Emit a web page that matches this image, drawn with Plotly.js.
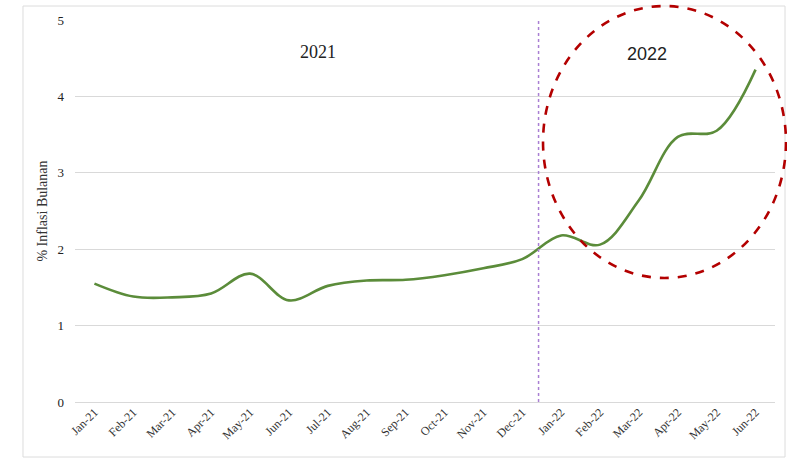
<!DOCTYPE html>
<html>
<head>
<meta charset="utf-8">
<script src="https://cdn.plot.ly/plotly-3.0.1.min.js"></script>
<style>html,body{margin:0;padding:0;background:#fff;}#chart{width:787px;height:459px;}</style>
</head>
<body>
<div id="chart"></div>
<script>
const months = ["Jan-21","Feb-21","Mar-21","Apr-21","May-21","Jun-21","Jul-21","Aug-21","Sep-21","Oct-21","Nov-21","Dec-21","Jan-22","Feb-22","Mar-22","Apr-22","May-22","Jun-22"];
const inflation = [1.55,1.38,1.37,1.42,1.68,1.33,1.52,1.59,1.60,1.66,1.75,1.87,2.18,2.06,2.64,3.47,3.55,4.35];
const yearLabels = ["2021","2022"];
const yTicks = [0,1,2,3,4,5];

const serif = "Liberation Serif, DejaVu Serif, serif";

const trace = {
  x: months,
  y: inflation,
  type: "scatter",
  mode: "lines",
  line: {color: "#5b8c3a", width: 2.6, shape: "spline", smoothing: 1},
  hoverinfo: "x+y"
};

const layout = {
  width: 787, height: 459,
  margin: {l: 75, r: 12, t: 20, b: 57},
  paper_bgcolor: "#fff", plot_bgcolor: "#fff",
  showlegend: false,
  font: {family: serif},
  xaxis: {
    type: "category",
    tickangle: -45,
    tickfont: {family: serif, size: 12, color: "#333"},
    showgrid: false, zeroline: false, showline: false, ticks: "",
    range: [-0.5, months.length - 0.5]
  },
  yaxis: {
    range: [0, 5],
    tickvals: yTicks,
    tickfont: {family: serif, size: 13, color: "#222"},
    ticklabelstandoff: 10,
    showgrid: true, gridcolor: "#d9d9d9", gridwidth: 1,
    zeroline: true, zerolinecolor: "#d9d9d9", zerolinewidth: 1,
    showline: false, ticks: "", ticklen: 0,
    title: {text: "% Inflasi Bulanan", font: {family: serif, size: 14, color: "#333"}, standoff: 6}
  },
  shapes: [
    {type: "rect", xref: "paper", yref: "paper", x0: -0.0743, x1: 1.0143, y0: -0.144, y1: 1.0366,
     line: {color: "#dcdcdc", width: 1}, fillcolor: "rgba(0,0,0,0)", layer: "below"},
    {type: "line", xref: "x", yref: "y", x0: 11.42, x1: 11.42, y0: 0, y1: 5,
     line: {color: "#a97fd3", width: 1.5, dash: "3px,3px"}},
    {type: "circle", xref: "paper", yref: "paper", x0: 0.6686, x1: 1.0157, y0: 0.3246, y1: 1.0366,
     line: {color: "#b30000", width: 2.6, dash: "dash"}}
  ],
  annotations: [
    {text: yearLabels[0], xref: "paper", yref: "paper", x: 0.3186, y: 0.9476, showarrow: false,
     font: {family: serif, size: 18, color: "#222"}},
    {text: yearLabels[1], xref: "paper", yref: "paper", x: 0.8486, y: 0.942, showarrow: false,
     font: {family: "Liberation Sans, Arial, sans-serif", size: 18, color: "#222"}}
  ]
};

Plotly.newPlot("chart", [trace], layout, {displayModeBar: false, staticPlot: true});
</script>
</body>
</html>
